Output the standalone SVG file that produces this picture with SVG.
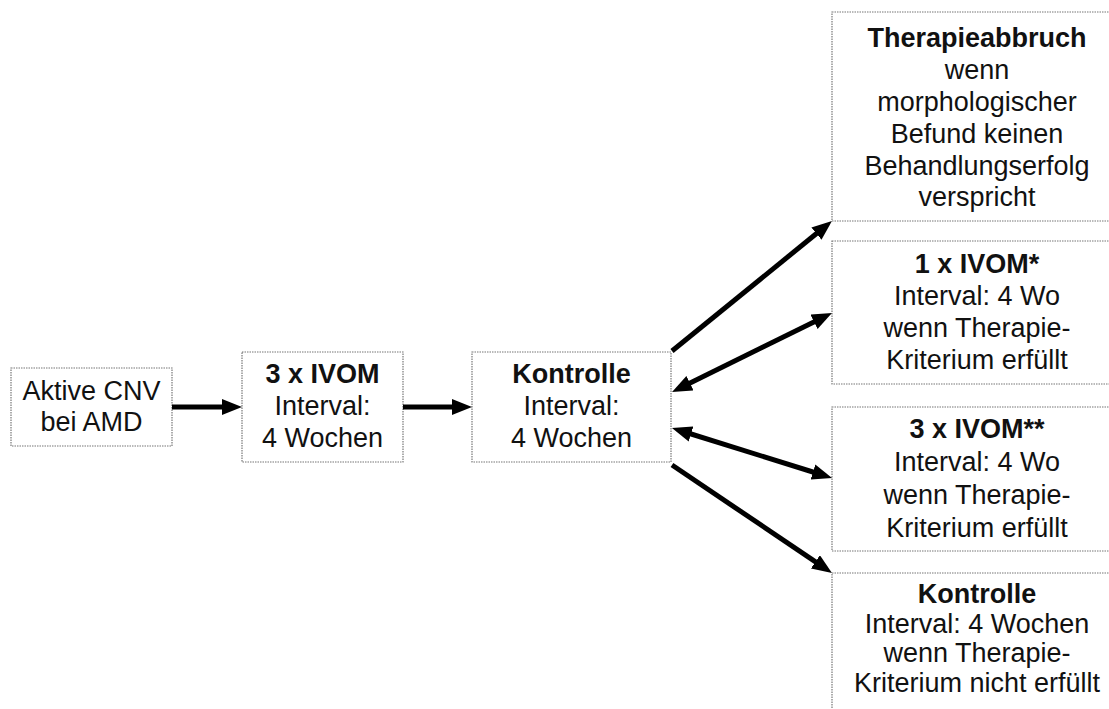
<svg xmlns="http://www.w3.org/2000/svg" width="1109" height="709" viewBox="0 0 1109 709">
<style>
.box{fill:#fff;stroke:#777;stroke-width:1.2;stroke-dasharray:1.5 1}
.t{font-family:"Liberation Sans",Arial,sans-serif;font-size:27px;fill:#111;text-anchor:middle}
.b{font-weight:bold}
.c{stroke:#000;stroke-width:5;fill:none}
</style>
<defs>
<marker id="ah" viewBox="0 0 20 16" refX="10" refY="8" markerWidth="20" markerHeight="16" markerUnits="userSpaceOnUse" orient="auto-start-reverse">
<path d="M0,0 L20,8 L0,16 z" fill="#000"/>
</marker>
</defs>
<rect width="1109" height="709" fill="#fff"/>
<g id="n1">
<rect class="box" x="11" y="368" width="161" height="78"/>
<text class="t" x="91.5" y="400">Aktive CNV</text>
<text class="t" x="91.5" y="431">bei AMD</text>
</g>
<g id="n2">
<rect class="box" x="242" y="352" width="161" height="110"/>
<text class="t b" x="322.5" y="383">3 x IVOM</text>
<text class="t" x="322.5" y="415">Interval:</text>
<text class="t" x="322.5" y="447">4 Wochen</text>
</g>
<g id="n3">
<rect class="box" x="472" y="352" width="199" height="110"/>
<text class="t b" x="571.5" y="383">Kontrolle</text>
<text class="t" x="571.5" y="415">Interval:</text>
<text class="t" x="571.5" y="447">4 Wochen</text>
</g>
<g id="n4">
<rect class="box" x="832" y="12" width="300" height="209"/>
<text class="t b" x="977" y="47">Therapieabbruch</text>
<text class="t" x="977" y="79">wenn</text>
<text class="t" x="977" y="111">morphologischer</text>
<text class="t" x="977" y="143">Befund keinen</text>
<text class="t" x="977" y="175">Behandlungserfolg</text>
<text class="t" x="977" y="206">verspricht</text>
</g>
<g id="n5">
<rect class="box" x="832" y="241" width="300" height="143"/>
<text class="t b" x="977" y="273">1 x IVOM*</text>
<text class="t" x="977" y="305">Interval: 4 Wo</text>
<text class="t" x="977" y="337">wenn Therapie-</text>
<text class="t" x="977" y="369">Kriterium erfüllt</text>
</g>
<g id="n6">
<rect class="box" x="832" y="407" width="300" height="144"/>
<text class="t b" x="977" y="438">3 x IVOM**</text>
<text class="t" x="977" y="471">Interval: 4 Wo</text>
<text class="t" x="977" y="504">wenn Therapie-</text>
<text class="t" x="977" y="537">Kriterium erfüllt</text>
</g>
<g id="n7">
<rect class="box" x="832" y="573" width="300" height="160"/>
<text class="t b" x="977" y="603">Kontrolle</text>
<text class="t" x="977" y="633">Interval: 4 Wochen</text>
<text class="t" x="977" y="662">wenn Therapie-</text>
<text class="t" x="977" y="692">Kriterium nicht erfüllt</text>
</g>
<g id="connectors">
<line class="c" x1="172" y1="407" x2="232" y2="407" marker-end="url(#ah)"/>
<line class="c" x1="403" y1="407" x2="462" y2="407" marker-end="url(#ah)"/>
<line class="c" x1="672" y1="351" x2="824.2" y2="227.3" marker-end="url(#ah)"/>
<line class="c" x1="681" y1="387.6" x2="823" y2="317.4" marker-start="url(#ah)" marker-end="url(#ah)"/>
<line class="c" x1="681.5" y1="431" x2="822.5" y2="475" marker-start="url(#ah)" marker-end="url(#ah)"/>
<line class="c" x1="672" y1="465" x2="823.7" y2="567.4" marker-end="url(#ah)"/>
</g>
</svg>
